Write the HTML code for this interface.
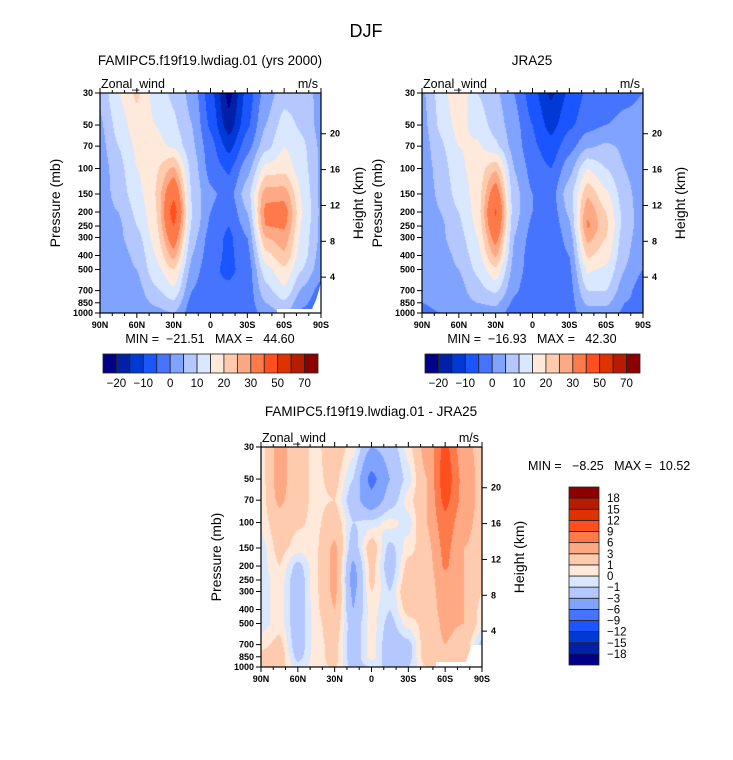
<!DOCTYPE html>
<html><head><meta charset="utf-8">
<style>
html,body{margin:0;padding:0;background:#fff;}
#wrap{position:relative;width:733px;height:760px;overflow:hidden;background:#fff;font-family:"Liberation Sans",sans-serif;}
canvas{position:absolute;}
svg{position:absolute;left:0;top:0;}
</style></head>
<body>
<div id="wrap">
<canvas id="c1" style="left:100px;top:93px" width="221" height="220"></canvas>
<canvas id="c2" style="left:422px;top:93px" width="221" height="220"></canvas>
<canvas id="c3" style="left:261px;top:447px" width="221" height="220"></canvas>
<svg id="ov" width="733" height="760" font-family="Liberation Sans, sans-serif">
<text x="366" y="37" font-size="18" text-anchor="middle">DJF</text>
<text x="210" y="65" font-size="13.5" text-anchor="middle">FAMIPC5.f19f19.lwdiag.01 (yrs 2000)</text>
<text x="532" y="65" font-size="13.5" text-anchor="middle">JRA25</text>
<text x="371" y="416" font-size="13.5" text-anchor="middle">FAMIPC5.f19f19.lwdiag.01 - JRA25</text>
<text x="210" y="343" font-size="12.5" text-anchor="middle" xml:space="preserve">MIN =  −21.51   MAX =   44.60</text>
<text x="532" y="343" font-size="12.5" text-anchor="middle" xml:space="preserve">MIN =  −16.93   MAX =   42.30</text>
<text x="528" y="470" font-size="12.5" xml:space="preserve">MIN =   −8.25   MAX =  10.52</text>
<polygon points="277,309 312,309 316,300 319,290 321,282 321,313 277,313" fill="#fff"/>
<polygon points="436,662 466,662 468,656 472,645 482,645 482,667 436,667" fill="#fff"/>
</svg>
</div>
<script>
const lats = [90,75,60,45,30,15,0,-15,-30,-45,-60,-75,-90];
const pLevels = [30,50,70,100,150,200,250,300,400,500,700,850,1000];
const uModel = [
[6,15,21,13,9,3,-8,-22,-8,2,8,8,3],
[4,12,18,15,11,5,-6,-18,-6,5,12,9,3],
[3,10,16,17,14,6,-3,-12,-2,8,15,11,4],
[2,8,15,19,26,8,-2,-6,3,17,18,12,4],
[2,7,13,20,38,9,1,-2,8,28,28,14,4],
[2,5,11,19,44,10,0,-4,5,32,33,15,4],
[2,4,10,18,40,9,-1,-5,2,30,31,14,4],
[2,4,8,17,35,7,-2,-6,0,25,28,13,4],
[2,3,6,15,27,5,-3,-6,-2,18,24,12,3],
[2,3,5,13,20,3,-4,-6,-3,13,19,10,2],
[2,2,3,9,14,0,-5,-4,-3,8,14,4,-2],
[2,2,2,6,9,-2,-5,-4,-3,5,9,1,-3],
[2,1,1,3,5,-3,-5,-4,-3,2,6,-1,-3]];
const uJra = [
[4,12,20,10,6,0,-8,-16,-9,-4,-2,-1,0],
[3,11,17,13,8,2,-5,-12,-6,-2,0,1,1],
[2,9,15,16,11,3,-4,-8,-2,4,6,4,1],
[2,7,14,17,24,5,-2,-5,3,15,10,5,1],
[2,6,12,17,35,7,0,-2,8,24,16,7,2],
[2,5,10,17,41,7,0,-3,6,29,20,8,2],
[2,4,9,16,38,6,-1,-4,4,31,21,8,2],
[2,4,8,15,33,5,-2,-4,2,27,20,7,2],
[2,3,6,13,26,4,-3,-4,0,21,17,6,1],
[1,3,5,11,19,3,-3,-4,-1,16,14,5,0],
[1,2,3,8,11,1,-4,-4,-2,10,10,2,-3],
[0,1,2,5,6,-1,-5,-4,-2,6,6,0,-2],
[-1,0,1,3,3,-3,-5,-3,-2,3,3,-1,-1]];
const uDiff = [
[0.3,4,1.5,0.7,2,0.5,-3,-2,0.5,4,10,4,2],
[0.3,4,1.5,0.7,1.5,-1,-7,-3,-0.5,3,11,5,2],
[0.3,3.5,1.5,0.7,1,-2,-5,-2,0.5,3,10,5,2],
[0.3,2,1.2,0.7,2,-1,-0.5,0.5,-0.5,3,8,4,2],
[-0.5,1.5,0.5,0.8,3.5,-2,2,-1.5,0.5,2,7,3,2],
[-0.5,1,-1.5,0.8,3.5,-3.5,1.5,-2,1.5,1.5,6.5,3,2],
[-0.5,0.5,-2,0.8,3.5,-4,1.5,-1.5,2,1.5,5,3,1.5],
[-0.5,0.5,-2,0.8,3.5,-3.5,1,-1,2.5,1.5,4.5,3,1],
[-0.5,0.5,-2,0.7,3,-3,0.5,-1,1.5,1.5,4,3,0.5],
[-0.5,0.5,-2,0.6,2,-2,0.5,-1.5,0.5,1.5,3.5,3,0.5],
[0.5,1.5,-2,0.6,1.5,-2,0.5,-2,-1.5,2,3,2,-1.5],
[1.5,2,-1.5,0.6,1.5,-2,0.5,-2,-1.5,2,2.5,2,-1],
[2,1.5,-0.5,0.5,1.2,-1.5,-1,-1,-1,1,2,2,-0.5]];
const levelsWind = [-20,-15,-10,-5,0,5,10,15,20,25,30,40,50,60,70];
const windLabels = ["−20","−10","0","10","20","30","50","70"];
const levelsDiff = [-18,-15,-12,-9,-6,-3,-1,0,1,3,6,9,12,15,18];
const diffLabels = ["−18","−15","−12","−9","−6","−3","−1","0","1","3","6","9","12","15","18"];
const palette = ["#000088","#0020a8","#0039d6","#1a55ff","#4674ff","#7fa3ff","#b4c8ff","#d9e7ff","#ffe9da","#ffcbae","#ffa984","#ff7a4a","#ff4f1f","#e03200","#b81c00","#8c0000"];
const latLabels = ["90N","60N","30N","0","30S","60S","90S"];
const latTicks = [90,60,30,0,-30,-60,-90];
const heightTicks = [4,8,12,16,20];

const L30 = Math.log(30), L1000 = Math.log(1000);
function yScale(p, top, h){ return top + h*(Math.log(p)-L30)/(L1000-L30); }
function xScale(lat, left, w){ return left + w*(90-lat)/180; }

function valueAt(grid, lat, lnp){
  let c = (90-lat)/15; let ci = Math.min(Math.floor(c), lats.length-2); let cf = c-ci;
  let ri = 0;
  while(ri < pLevels.length-2 && Math.log(pLevels[ri+1]) < lnp) ri++;
  let a = Math.log(pLevels[ri]), b = Math.log(pLevels[ri+1]);
  let rf = Math.max(0, Math.min(1, (lnp-a)/(b-a)));
  cf = cf*cf*(3-2*cf)*0.5 + cf*0.5;
  let v00 = grid[ri][ci], v01 = grid[ri][ci+1], v10 = grid[ri+1][ci], v11 = grid[ri+1][ci+1];
  return (v00*(1-cf)+v01*cf)*(1-rf) + (v10*(1-cf)+v11*cf)*rf;
}
function colorIndex(v, levels){ let k=0; while(k<levels.length && v>=levels[k]) k++; return k; }
function hexRgb(h){ return [parseInt(h.substr(1,2),16),parseInt(h.substr(3,2),16),parseInt(h.substr(5,2),16)]; }
const rgbPal = palette.map(hexRgb);

function drawField(id, grid, levels){
  const cv = document.getElementById(id), ctx = cv.getContext('2d');
  const W = cv.width, H = cv.height, img = ctx.createImageData(W,H);
  for(let py=0; py<H; py++){
    const lnp = L30 + (L1000-L30)*(py+0.5)/H;
    for(let px=0; px<W; px++){
      const lat = 90 - 180*(px+0.5)/W;
      const k = colorIndex(valueAt(grid, lat, lnp), levels);
      const c = rgbPal[k], o = (py*W+px)*4;
      img.data[o]=c[0]; img.data[o+1]=c[1]; img.data[o+2]=c[2]; img.data[o+3]=255;
    }
  }
  ctx.putImageData(img,0,0);
}
drawField('c1', uModel, levelsWind);
drawField('c2', uJra, levelsWind);
drawField('c3', uDiff, levelsDiff);

const NS = "http://www.w3.org/2000/svg";
const ov = document.getElementById('ov');
function mk(tag, attrs, parent){ const e = document.createElementNS(NS, tag); for(const k in attrs) e.setAttribute(k, attrs[k]); (parent||ov).appendChild(e); return e; }

function drawAxes(P, key){
  const g = mk('g', {});
  
  
  const fr = mk('rect', {x:P.x, y:P.y, width:P.w, height:P.h, fill:'none', stroke:'#000', 'stroke-width':1.2}, g);
  
  
  for(let lat=90; lat>=-90; lat-=10){
    const x = xScale(lat, P.x, P.w), major = (lat%30===0), len = major?5:3;
    mk('line', {x1:x, y1:P.y+P.h, x2:x, y2:P.y+P.h+len, stroke:'#000'}, g);
    mk('line', {x1:x, y1:P.y, x2:x, y2:P.y-len, stroke:'#000'}, g);
  }
  latTicks.forEach((lat,i)=>{
    const t = mk('text', {x:xScale(lat,P.x,P.w), y:P.y+P.h+15, 'font-size':9, 'font-weight':'bold', 'text-anchor':'middle'}, g);
    t.textContent = latLabels[i];
    
    
  });
  pLevels.forEach(p=>{
    const y = yScale(p, P.y, P.h);
    mk('line', {x1:P.x-5, y1:y, x2:P.x, y2:y, stroke:'#000'}, g);
    const t = mk('text', {x:P.x-7, y:y+3, 'font-size':9, 'font-weight':'bold', 'text-anchor':'end'}, g);
    t.textContent = p;
    
    
  });
  heightTicks.forEach(z=>{
    const y = yScale(1000*Math.exp(-z/7), P.y, P.h);
    mk('line', {x1:P.x+P.w, y1:y, x2:P.x+P.w+5, y2:y, stroke:'#000'}, g);
    const t = mk('text', {x:P.x+P.w+9, y:y+3, 'font-size':9, 'font-weight':'bold'}, g);
    t.textContent = z;
    
    
  });
  const zw = mk('text', {x:P.x+1, y:P.y-5, 'font-size':12.5}, g);
  zw.textContent = 'Zonal_wind';
  
  
  const un = mk('text', {x:P.x+P.w-3, y:P.y-5, 'font-size':12.5, 'text-anchor':'end'}, g);
  un.textContent = 'm/s';
  
  
  const cy = P.y+P.h/2;
  const yt = mk('text', {x:P.x-40, y:cy, 'font-size':14, 'text-anchor':'middle', transform:'rotate(-90 '+(P.x-40)+' '+cy+')'}, g);
  yt.textContent = 'Pressure (mb)';
  
  
  const hx = P.x+P.w+42;
  const ht = mk('text', {x:hx, y:cy, 'font-size':14, 'text-anchor':'middle', transform:'rotate(-90 '+hx+' '+cy+')'}, g);
  ht.textContent = 'Height (km)';
  
  
}
drawAxes({x:100,y:93,w:221,h:220}, 'model');
drawAxes({x:422,y:93,w:221,h:220}, 'jra');
drawAxes({x:261,y:447,w:221,h:220}, 'diff');

function hBar(x0, x1, y0, y1, key){
  const g = mk('g', {});
  
  
  const n = palette.length, bw = (x1-x0)/n;
  palette.forEach((c,i)=>{
    const r = mk('rect', {x:x0+i*bw, y:y0, width:bw, height:y1-y0, fill:c, stroke:'#222', 'stroke-width':0.8}, g);
    
    
  });
  windLabels.forEach((lab,j)=>{
    const t = mk('text', {x:x0+(2*j+1)*bw, y:y1+14, 'font-size':11.5, 'text-anchor':'middle'}, g);
    t.textContent = lab;
    
    
  });
}
hBar(103, 318, 354, 373, 'model');
hBar(425, 640, 354, 373, 'jra');

(function(){
  const x0=569, x1=599, y0=487, y1=665, n=palette.length, bh=(y1-y0)/n;
  const g = mk('g', {});
  
  
  palette.forEach((c,i)=>{
    const r = mk('rect', {x:x0, y:y1-(i+1)*bh, width:x1-x0, height:bh, fill:c, stroke:'#222', 'stroke-width':0.8}, g);
    
    
  });
  diffLabels.forEach((lab,j)=>{
    const t = mk('text', {x:607, y:y1-(j+1)*bh+4, 'font-size':11.5}, g);
    t.textContent = lab;
    
    
  });
})();
</script>
</body></html>
